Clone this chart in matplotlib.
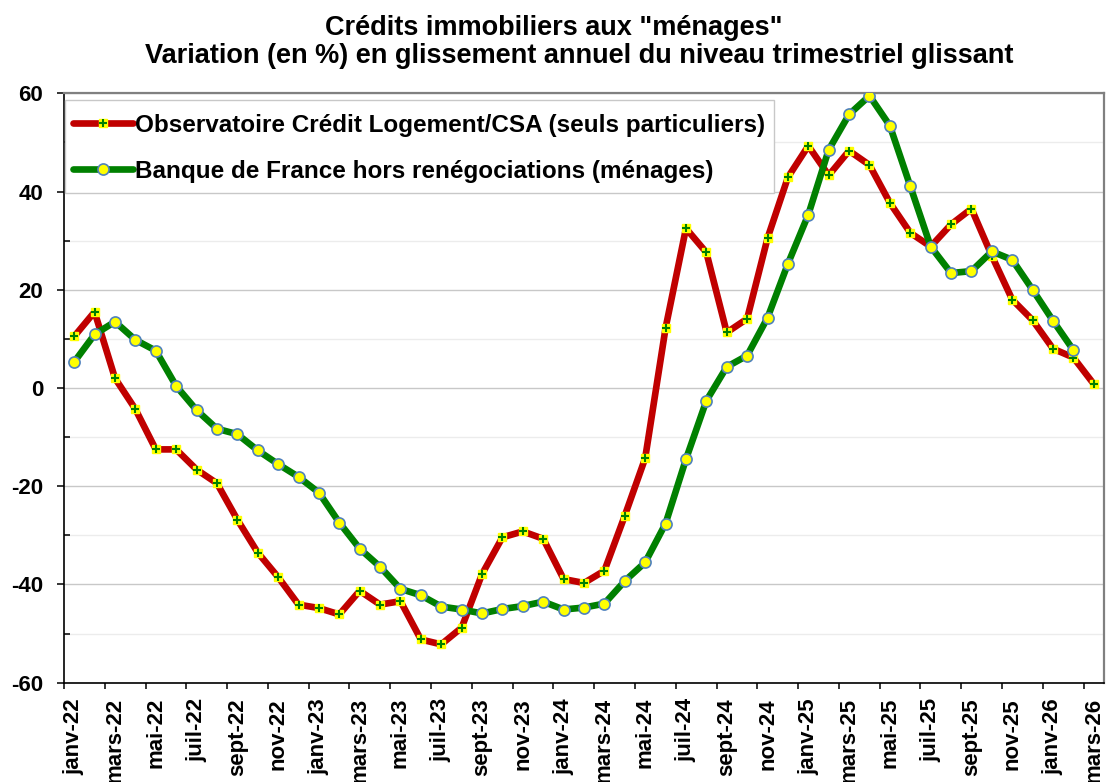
import numpy as np
import matplotlib
matplotlib.use("Agg")
import matplotlib.pyplot as plt
from matplotlib.lines import Line2D
from matplotlib.patches import Rectangle
from matplotlib.font_manager import FontProperties

plt.rcParams['font.family'] = ['Liberation Sans', 'DejaVu Sans']
plt.rcParams['font.weight'] = 'bold'
plt.rcParams['axes.unicode_minus'] = False

categories = [
    "janv-22", "févr-22", "mars-22", "avr-22", "mai-22", "juin-22", "juil-22", "août-22",
    "sept-22", "oct-22", "nov-22", "déc-22",
    "janv-23", "févr-23", "mars-23", "avr-23", "mai-23", "juin-23", "juil-23", "août-23",
    "sept-23", "oct-23", "nov-23", "déc-23",
    "janv-24", "févr-24", "mars-24", "avr-24", "mai-24", "juin-24", "juil-24", "août-24",
    "sept-24", "oct-24", "nov-24", "déc-24",
    "janv-25", "févr-25", "mars-25", "avr-25", "mai-25", "juin-25", "juil-25", "août-25",
    "sept-25", "oct-25", "nov-25", "déc-25",
    "janv-26", "févr-26", "mars-26",
]

observatoire = [
    10.5, 15.5, 2.0, -4.3, -12.5, -12.5, -16.6, -19.4, -26.8, -33.5, -38.5, -44.1,
    -44.8, -46.1, -41.3, -44.1, -43.4, -51.2, -52.2, -48.8, -37.9, -30.4, -29.2, -30.7,
    -38.9, -39.7, -37.2, -26.0, -14.3, 12.2, 32.5, 27.6, 11.3, 14.1, 30.5, 42.9,
    49.3, 43.3, 48.3, 45.4, 37.7, 31.6, 28.8, 33.3, 36.5, 26.9, 18.0, 13.8,
    8.0, 6.2, 0.8,
]

banque_de_france = [
    5.3, 10.9, 13.5, 9.8, 7.6, 0.4, -4.5, -8.3, -9.4, -12.7, -15.5, -18.1,
    -21.3, -27.4, -32.7, -36.4, -40.9, -42.2, -44.5, -45.1, -45.9, -45.0, -44.4, -43.5,
    -45.1, -44.7, -43.9, -39.3, -35.5, -27.6, -14.5, -2.6, 4.3, 6.6, 14.3, 25.3,
    35.3, 48.5, 55.7, 59.5, 53.4, 41.1, 28.8, 23.4, 23.8, 27.8, 26.1, 20.0,
    13.7, 7.7,
]

label_obs = "Observatoire Crédit Logement/CSA (seuls particuliers)"
label_bdf = "Banque de France hors renégociations (ménages)"
title1 = 'Crédits immobiliers aux "ménages"'
title2 = "Variation (en %) en glissement annuel du niveau trimestriel glissant"

RED = '#C00000'
GREEN = '#008000'
YELLOW = '#FFFF00'
BLUE = '#4F81BD'

W, H = 1106, 782
AX_L, AX_R, AX_T, AX_B = 64, 1104, 93.3, 682.7
AX_W, AX_H = AX_R - AX_L, AX_B - AX_T
fig = plt.figure(figsize=(W / 100, H / 100), dpi=100)
ax = fig.add_axes([AX_L / W, 1 - AX_B / H, AX_W / W, AX_H / H])

x_obs = np.arange(len(observatoire))
x_bdf = np.arange(len(banque_de_france))

ax.plot(x_obs, observatoire, color=RED, lw=4.8, solid_joinstyle='round',
        solid_capstyle='round', marker='s', ms=5.8, mfc=YELLOW, mec=YELLOW, zorder=3)
ax.plot(x_obs, observatoire, ls='none', marker='+', ms=5.2, mew=1.5, color=GREEN, zorder=3.1)
ax.plot(x_bdf, banque_de_france, color=GREEN, lw=4.8, solid_joinstyle='round',
        solid_capstyle='round', marker='o', ms=8, mfc=YELLOW, mec=BLUE, mew=1.2, zorder=4)

ax.set_xlim(-0.5, len(categories) - 0.5)
ax.set_ylim(-60, 60)

# y axis
ax.set_yticks(np.arange(-60, 61, 20))
ax.set_yticks(np.arange(-60, 61, 10), minor=True)
ax.tick_params(axis='y', which='major', direction='out', length=5, width=1.1,
               pad=10, labelsize=16)
ax.tick_params(axis='y', which='minor', direction='in', length=4, width=1.1)
for lab in ax.get_yticklabels():
    lab.set_fontweight('bold')
ax.grid(axis='y', which='major', color='#c8c8c8', lw=1.0, zorder=0)
ax.grid(axis='y', which='minor', color='#ececec', lw=1.0, zorder=0)
ax.set_axisbelow(True)

# x axis: tick marks at category boundaries every 2, labels centred on categories
bounds = np.arange(-0.5, len(categories) - 1, 2)
ax.set_xticks(bounds)
ax.set_xticklabels([''] * len(bounds))
ax.tick_params(axis='x', which='major', direction='out', length=4.5, width=1.1)
ax.set_xticks(x_obs[::2], minor=True)
ax.set_xticklabels(categories[::2], minor=True, rotation=90, fontsize=16, fontweight='bold')
ax.tick_params(axis='x', which='minor', length=0, pad=11)

for s in ['left', 'bottom']:
    ax.spines[s].set_color('black')
    ax.spines[s].set_linewidth(1.2)
for s in ['top', 'right']:
    ax.spines[s].set_color('#808080')
    ax.spines[s].set_linewidth(1.6)

# legend (frame drawn separately to match the reference box)
frame_l, frame_r, frame_t, frame_b = 65, 774, 100, 193
ax.add_patch(Rectangle(((frame_l - AX_L) / AX_W, (AX_B - frame_b) / AX_H),
                       (frame_r - frame_l) / AX_W, (frame_b - frame_t) / AX_H,
                       transform=ax.transAxes, facecolor='white', edgecolor='#c8c8c8',
                       lw=1.0, clip_on=False, zorder=9))

h1 = (Line2D([], [], color=RED, lw=4.8, solid_capstyle='round', marker='s', ms=5.8,
             mfc=YELLOW, mec=YELLOW),
      Line2D([], [], ls='none', marker='+', ms=5.2, mew=1.5, color=GREEN))
h2 = Line2D([], [], color=GREEN, lw=4.8, solid_capstyle='round', marker='o', ms=8,
            mfc=YELLOW, mec=BLUE, mew=1.2)
leg = ax.legend([h1, h2], [label_obs, label_bdf], loc='upper left',
                bbox_to_anchor=((59.4 - AX_L) / AX_W, 1 - (frame_t - AX_T) / AX_H),
                borderaxespad=0,
                prop=FontProperties(family='Liberation Sans', weight='bold', size=17.5),
                handlelength=2.47, handletextpad=0.1, borderpad=0.56, labelspacing=0.96,
                frameon=False, numpoints=1)
leg.set_zorder(10)

fig.text(554 / W, 1 - 35 / H, title1, ha='center', va='baseline',
         fontsize=19.5, fontweight='bold')
fig.text(579 / W, 1 - 63.3 / H, title2, ha='center', va='baseline',
         fontsize=19.5, fontweight='bold')

fig.savefig('out.png', dpi=100)
